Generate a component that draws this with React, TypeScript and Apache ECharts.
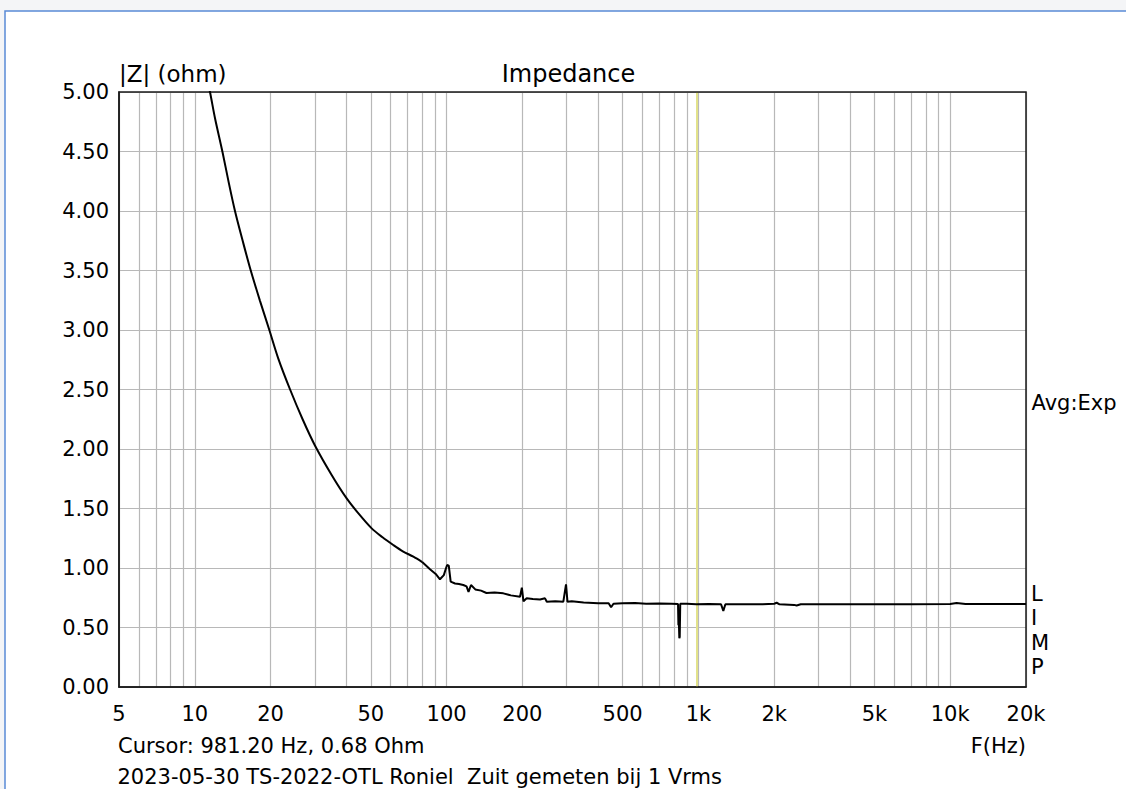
import React, { useEffect, useRef } from "react";
import * as echarts from "echarts";

// ---- data ----
const freqHz = [
  11.2, 11.49, 12.03, 12.9, 13.59, 14.44, 15.58, 16.67, 18.15, 19.77, 21.46, 23.9, 26.8, 30.0, 35, 40.1, 45, 50.4,
  55.5, 61.4, 67, 73.8, 80, 85.9, 90.5, 94.1, 97.5, 99.5, 100.5, 102, 103.8, 108, 112, 116.5, 120, 122.2, 125,
  130, 137, 144, 155, 168, 180, 195.7, 199, 202, 208, 220, 235, 246, 250, 270, 290.8, 298, 302, 314, 350, 400,
  440, 450, 460, 500, 560, 620, 700, 780, 830, 833, 836, 840, 843, 847, 900, 981.2, 1100, 1230, 1256, 1280,
  1500, 1800, 2000, 2046, 2100, 2400, 2455, 2550, 4000, 7000, 10000, 10600, 11500, 20000,
];
const impedanceOhm = [
  5.1, 5.0, 4.78, 4.49, 4.255, 4.0, 3.73, 3.502, 3.245, 3.0, 2.76, 2.5, 2.25, 2.03, 1.78, 1.585, 1.45, 1.333,
  1.26, 1.193, 1.14, 1.095, 1.05, 0.99, 0.95, 0.905, 0.94, 1.0, 1.025, 1.02, 0.885, 0.87, 0.865, 0.857, 0.845,
  0.8, 0.857, 0.82, 0.81, 0.79, 0.795, 0.787, 0.77, 0.759, 0.835, 0.72, 0.745, 0.74, 0.735, 0.745, 0.717, 0.72,
  0.717, 0.863, 0.717, 0.72, 0.71, 0.703, 0.703, 0.67, 0.7, 0.703, 0.706, 0.7, 0.702, 0.7, 0.698, 0.52, 0.56,
  0.41, 0.42, 0.7, 0.7, 0.695, 0.697, 0.695, 0.64, 0.695, 0.695, 0.695, 0.7, 0.708, 0.695, 0.69, 0.685, 0.695,
  0.695, 0.695, 0.697, 0.705, 0.697, 0.697,
];
// the low-frequency roll-off is a smooth curve; above this the trace carries sharp spikes
const smoothUpToHz = 80;

const xGridValues = [
  5, 6, 7, 8, 9, 10, 20, 30, 40, 50, 60, 70, 80, 90, 100, 200, 300, 400, 500, 600, 700, 800, 900, 1000, 2000,
  3000, 4000, 5000, 6000, 7000, 8000, 9000, 10000, 20000,
];
const xLabelValues = [5, 10, 20, 50, 100, 200, 500, 1000, 2000, 5000, 10000, 20000];
const cursorFreq = 981.2;

const yAxisTitle = "|Z| (ohm)";
const chartTitle = "Impedance";
const cursorText = "Cursor: 981.20 Hz, 0.68 Ohm";
const xAxisTitle = "F(Hz)";
const noteText = "2023-05-30 TS-2022-OTL Roniel  Zuit gemeten bij 1 Vrms";
const avgText = "Avg:Exp";
const sideLetters = ["L", "I", "M", "P"];

const FONT = "DejaVu Sans";

export default function App() {
  const ref = useRef<HTMLDivElement>(null);
  useEffect(() => {
    if (!ref.current) return;
    const chart = echarts.init(ref.current, undefined, { renderer: "svg" });
    const txt = (text: string, x: number, y: number, size: number, align = "left") => ({
      type: "text",
      x,
      y,
      silent: true,
      style: { text, fill: "#000", fontSize: size, fontFamily: FONT, align, verticalAlign: "middle" },
    });
    const pts = freqHz.map((f, i) => [f, impedanceOhm[i]]);
    const lowPart = pts.filter((p) => p[0] <= smoothUpToHz);
    const highPart = pts.filter((p) => p[0] >= smoothUpToHz);
    const lineStyle = { color: "#000", width: 2 };
    chart.setOption({
      animation: false,
      backgroundColor: "#ffffff",
      textStyle: { fontFamily: FONT },
      grid: {
        left: 119,
        top: 92,
        width: 907,
        height: 595,
        show: true,
        borderColor: "#1a1a1a",
        borderWidth: 1.5,
        backgroundColor: "transparent",
        z: 3,
      },
      xAxis: {
        type: "log",
        logBase: 10,
        min: 5,
        max: 20000,
        axisLine: { show: true, onZero: false, lineStyle: { color: "#1a1a1a", width: 1.5 } },
        axisTick: { show: false, customValues: xGridValues },
        axisLabel: {
          customValues: xLabelValues,
          margin: 16,
          color: "#000",
          fontSize: 21,
          fontFamily: FONT,
          formatter: (v: number) => {
            const r = Math.round(v);
            return r >= 1000 ? `${r / 1000}k` : `${r}`;
          },
        },
        splitLine: { show: true, lineStyle: { color: "#b8b8b8", width: 1.2 } },
      },
      yAxis: {
        type: "value",
        min: 0,
        max: 5,
        interval: 0.5,
        axisLine: { show: true, lineStyle: { color: "#1a1a1a", width: 1.5 } },
        axisTick: { show: false },
        axisLabel: {
          margin: 10,
          color: "#000",
          fontSize: 21,
          fontFamily: FONT,
          formatter: (v: number) => v.toFixed(2),
        },
        splitLine: { show: true, lineStyle: { color: "#b8b8b8", width: 1.2 } },
      },
      series: [
        {
          type: "line",
          data: lowPart,
          showSymbol: false,
          smooth: 0.3,
          clip: true,
          lineStyle,
          z: 5,
        },
        {
          type: "line",
          data: highPart,
          showSymbol: false,
          clip: true,
          lineStyle,
          z: 5,
          markLine: {
            silent: true,
            symbol: "none",
            label: { show: false },
            lineStyle: { color: "#e2e28a", width: 2, type: "solid" },
            data: [{ xAxis: cursorFreq }],
            z: 1,
          },
        },
      ],
      graphic: [
        { type: "rect", shape: { x: 0, y: 0, width: 1126, height: 11 }, style: { fill: "#f4f5f7" }, silent: true },
        { type: "rect", shape: { x: 0, y: 0, width: 5, height: 789 }, style: { fill: "#f4f5f7" }, silent: true },
        {
          type: "polyline",
          shape: { points: [[5, 789], [5, 11], [1126, 11]] },
          style: { stroke: "#5a8ad6", lineWidth: 1.5, fill: "none" },
          silent: true,
        },
        txt(yAxisTitle, 119, 74, 23),
        txt(chartTitle, 568.5, 74, 24, "center"),
        txt(cursorText, 118, 746, 21),
        txt(xAxisTitle, 1026, 746, 21, "right"),
        txt(noteText, 117.5, 777, 21),
        txt(avgText, 1031.5, 402.5, 21),
        ...sideLetters.map((l, i) => txt(l, 1031, 594 + i * 24.3, 21)),
      ],
    });
    return () => chart.dispose();
  }, []);
  return (
    <div
      ref={ref}
      style={{ position: "fixed", left: 0, top: 0, width: 1126, height: 789 }}
    />
  );
}
